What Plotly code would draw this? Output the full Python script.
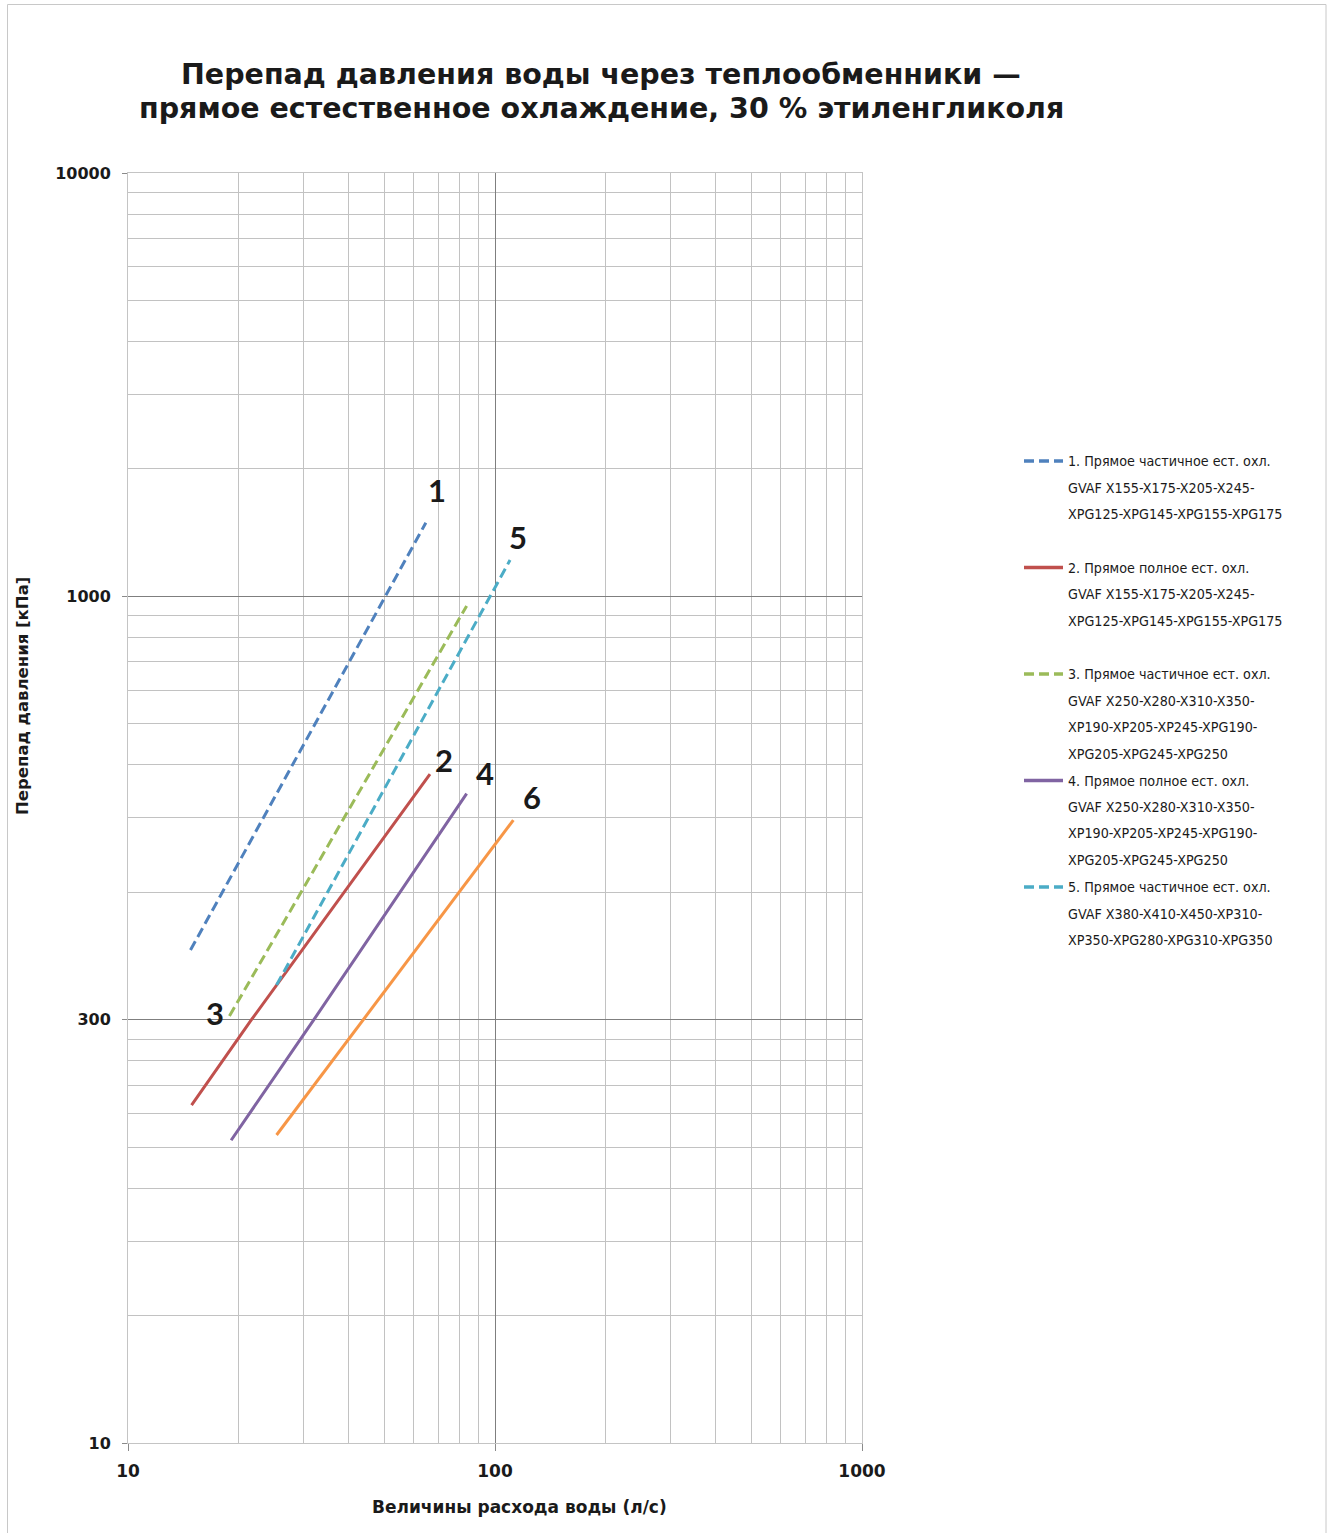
import numpy as np
import plotly.graph_objects as go

# ---- data: water flow (l/s) vs pressure drop (kPa), log-log ----
flow_1 = [14.8, 50.1, 64.8]
dp_1 = [146, 1000, 1492]

flow_2 = [14.9, 21.7, 66.5]
dp_2 = [62.8, 100, 380]

flow_3 = [18.9, 30.0, 83.7]
dp_3 = [102, 204, 949]

flow_4 = [19.1, 32.1, 83.7]
dp_4 = [51.9, 100, 342]

flow_5 = [25.4, 97.0, 109.9]
dp_5 = [120.7, 1000, 1218]

flow_6 = [25.4, 43.8, 112.2]
dp_6 = [53.4, 100, 296]

series_labels = ["1", "2", "3", "4", "5", "6"]
series_colors = ["#4F81BD", "#C0504D", "#9BBB59", "#8064A2", "#4BACC6", "#F79646"]
series_dash = ["10px,5px", "solid", "10px,5px", "solid", "10px,5px", "solid"]

legend_entries = [
    ["1. Прямое частичное ест. охл.", "GVAF X155-X175-X205-X245-", "XPG125-XPG145-XPG155-XPG175"],
    ["2. Прямое полное ест. охл.", "GVAF X155-X175-X205-X245-", "XPG125-XPG145-XPG155-XPG175"],
    ["3. Прямое частичное ест. охл.", "GVAF X250-X280-X310-X350-", "XP190-XP205-XP245-XPG190-", "XPG205-XPG245-XPG250"],
    ["4. Прямое полное ест. охл.", "GVAF X250-X280-X310-X350-", "XP190-XP205-XP245-XPG190-", "XPG205-XPG245-XPG250"],
    ["5. Прямое частичное ест. охл.", "GVAF X380-X410-X450-XP310-", "XP350-XPG280-XPG310-XPG350"],
]

x_tick_vals = [10, 100, 1000]
x_tick_text = ["10", "100", "1000"]
y_tick_vals = [10, 100, 1000, 10000]
y_tick_text = ["10", "300", "1000", "10000"]

title_lines = ["Перепад давления воды через теплообменники —",
               "прямое естественное охлаждение, 30 % этиленгликоля"]
x_title = "Величины расхода воды (л/с)"
y_title = "Перепад давления [кПа]"

# ---- layout geometry ----
W, H = 1330, 1533
ML, MR, MT, MB = 128, 468, 173, 90
PW = W - ML - MR
PH = H - MT - MB


def px_x(px):
    return (px - ML) / PW


def px_y(py):
    return (H - MB - py) / PH


flows = [flow_1, flow_2, flow_3, flow_4, flow_5, flow_6]
dps = [dp_1, dp_2, dp_3, dp_4, dp_5, dp_6]

fig = go.Figure()
for i, (fx, dy) in enumerate(zip(flows, dps)):
    fig.add_trace(go.Scatter(
        x=fx, y=dy, mode="lines", name=series_labels[i], showlegend=False,
        line=dict(color=series_colors[i], width=3, dash=series_dash[i]),
        hoverinfo="x+y",
    ))

# curve number labels, offset from the end of each curve
label_anchor = [(-1, 11, 33), (-1, 14, 14), (0, -14, 3), (-1, 18, 21), (-1, 8, 23), (-1, 19, 23)]
annotations = []
for i, (idx, dx, dy) in enumerate(label_anchor):
    annotations.append(dict(
        x=np.log10(flows[i][idx]), y=np.log10(dps[i][idx]), xref="x", yref="y",
        text=series_labels[i], showarrow=False, xshift=dx, yshift=dy,
        font=dict(family="Lato", size=31, color="#1a1a1a", weight="bold"),
        xanchor="center", yanchor="middle",
    ))

# two-line chart title
for k, (line, y_px) in enumerate(zip(title_lines, (75, 108))):
    annotations.append(dict(
        x=px_x(601), y=px_y(y_px), xref="paper", yref="paper", text=line,
        showarrow=False, xanchor="center", yanchor="middle",
        font=dict(family="DejaVu Sans", size=28.5, color="#1a1a1a", weight="bold"),
    ))

# axis titles
annotations.append(dict(
    x=px_x(519), y=px_y(1507), xref="paper", yref="paper", text=x_title,
    showarrow=False, xanchor="center", yanchor="middle",
    font=dict(family="DejaVu Sans", size=17, color="#1a1a1a", weight="bold"),
))
annotations.append(dict(
    x=px_x(22), y=px_y(696), xref="paper", yref="paper", text=y_title,
    showarrow=False, xanchor="center", yanchor="middle", textangle=-90,
    font=dict(family="DejaVu Sans", size=16.5, color="#1a1a1a", weight="bold"),
))

# legend drawn at the right of the plot
shapes = []
LEG_TOP, LEG_PITCH, LINE_H = 461, 106.5, 26.5
for i, entry in enumerate(legend_entries):
    y0 = LEG_TOP + i * LEG_PITCH
    shapes.append(dict(
        type="line", xref="paper", yref="paper",
        x0=px_x(1024), x1=px_x(1063), y0=px_y(y0), y1=px_y(y0),
        line=dict(color=series_colors[i], width=3.5, dash=series_dash[i]),
    ))
    for j, txt in enumerate(entry):
        annotations.append(dict(
            x=px_x(1066), y=px_y(y0 + j * LINE_H), xref="paper", yref="paper",
            text=txt, showarrow=False, xanchor="left", yanchor="middle",
            font=dict(family="DejaVu Sans Condensed, Liberation Sans Narrow", size=14.2, color="#1a1a1a"),
        ))

# thin frame round the whole chart
shapes.append(dict(
    type="rect", xref="paper", yref="paper",
    x0=px_x(7.5), x1=px_x(1326), y0=px_y(1545), y1=px_y(4.5),
    line=dict(color="#c8c8c8", width=1), fillcolor="rgba(0,0,0,0)", layer="below",
))

minor_vals_x = [m * 10 ** d for d in (1, 2) for m in range(2, 10)]
minor_vals_y = [m * 10 ** d for d in (1, 2, 3) for m in range(2, 10)]

tick_font = dict(family="DejaVu Sans", size=16, color="#1a1a1a", weight="bold")

fig.update_layout(
    width=W, height=H,
    margin=dict(l=ML, r=MR, t=MT, b=MB, autoexpand=False),
    paper_bgcolor="white", plot_bgcolor="white",
    xaxis=dict(
        type="log", range=[1, 3], tickvals=x_tick_vals, ticktext=x_tick_text,
        showgrid=True, gridcolor="#7f7f7f", gridwidth=1,
        showline=True, linecolor="#c4c4c4", linewidth=1, mirror=True,
        ticks="outside", ticklen=7, tickcolor="#8a8a8a",
        tickfont=dict(family="DejaVu Sans", size=17, color="#1a1a1a", weight="bold"),
        ticklabelstandoff=6,
        minor=dict(tickvals=minor_vals_x, showgrid=True, gridcolor="#c2c2c2", gridwidth=1, ticks=""),
    ),
    yaxis=dict(
        type="log", range=[1, 4], tickvals=y_tick_vals, ticktext=y_tick_text,
        showgrid=True, gridcolor="#7f7f7f", gridwidth=1,
        showline=True, linecolor="#c4c4c4", linewidth=1, mirror=True,
        ticks="outside", ticklen=5, tickcolor="#8a8a8a",
        tickfont=tick_font, ticklabelstandoff=8,
        minor=dict(tickvals=minor_vals_y, showgrid=True, gridcolor="#c2c2c2", gridwidth=1, ticks=""),
    ),
    annotations=annotations,
    shapes=shapes,
    showlegend=False,
)

fig.write_html("out.html")
